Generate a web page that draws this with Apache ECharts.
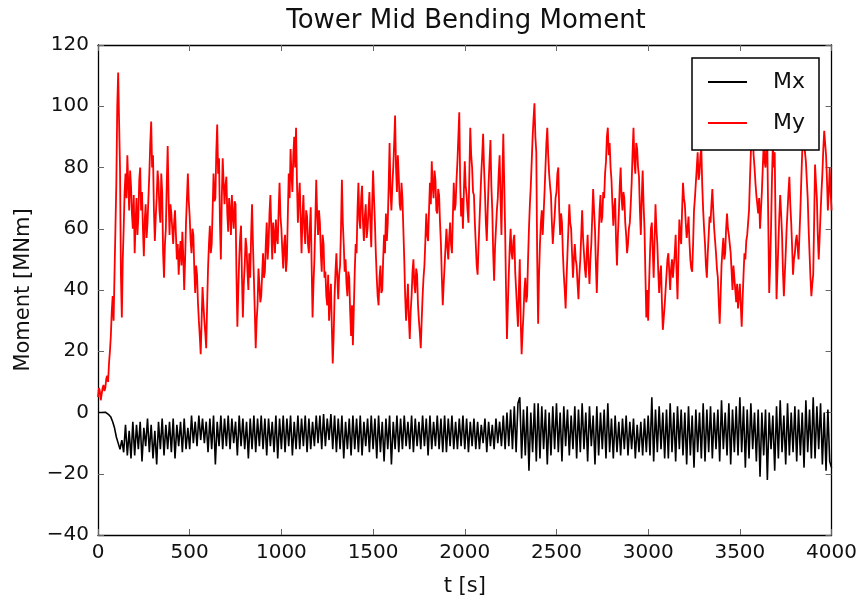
<!DOCTYPE html>
<html>
<head>
<meta charset="utf-8">
<script src="https://cdn.jsdelivr.net/npm/echarts@6/dist/echarts.min.js"></script>
<style>html,body{margin:0;padding:0;background:#fff;}#c{width:860px;height:603px;}</style>
</head>
<body>
<div id="c"></div>
<script>
// sampling grids (seconds)
const T_START = 0;
const MX_STEP = 10;
const MY_STEP = 5;
const xTicks = [0, 500, 1000, 1500, 2000, 2500, 3000, 3500, 4000];
const yTicks = [-40, -20, 0, 20, 40, 60, 80, 100, 120];
const seriesNames = ['Mx', 'My'];

// Mx [MNm], one value every 10 s
const mx = [
0, 0.3, 0, -0.2, 0.1, -0.4, -0.8, -1.5, -3, -5,
-8, -10, -12, -9, -13, -4, -14, -6, -15, -3,
-14, -4, -12, -3, -16, -5, -11, -2, -13, -4,
-15, -6, -17, -3, -12, -2, -14, -4, -12, -3,
-13, -2, -15, -4, -11, -3, -13, -2, -12, -5,
-12, -1, -10, -3, -11, -1, -9, -2, -10, -3,
-13, -2, -12, -1, -17, -3, -11, -1, -12, -2,
-11, -1, -12, -2, -10, -3, -14, -1, -11, -2,
-12, -3, -15, -2, -12, -1, -13, -2, -11, -1,
-12, -2, -14, -2, -11, -3, -13, -1, -15, -2,
-12, -1, -13, -2, -11, -1, -14, -3, -12, -1,
-12, -2, -11, -1, -13, -2, -12, -3, -11, -1,
-10, -1, -12, -0.5, -11, -2, -9, -0.5, -12, -1,
-13, -2, -12, -1, -15, -3, -12, -2, -14, -1,
-12, -2, -13, -1, -14, -3, -11, -2, -13, -1,
-12, -2, -15, -1, -13, -3, -16, -2, -12, -1,
-17, -3, -12, -1, -13, -2, -12, -1, -11, -3,
-12, -1, -13, -2, -11, -3, -12, -1, -11, -2,
-14, -1, -12, -3, -11, -1, -12, -2, -13, -1,
-13, -2, -11, -1, -12, -3, -12, -2, -11, -1,
-12, -2, -13, -3, -11, -2, -12, -3, -12, -4,
-10, -2, -13, -3, -11, -4, -12, -2, -10, -3,
-11, -1, -12, 0, -11, 1, -12, 2, -13, 3,
5, -15, 1, -14, 2, -19, 0, -13, 3, -16,
3, -15, 2, -12, 1, -17, 0, -14, 2, -12,
3, -13, 0, -16, 2, -11, 1, -14, -1, -12,
2, -15, 1, -13, 3, -12, 0, -16, 2, -11,
-1, -17, 2, -14, 0, -12, 1, -15, 3, -13,
-2, -15, -1, -13, -3, -14, -2, -12, -1, -14,
-3, -12, -2, -15, -4, -13, -3, -14, -2, -13,
-1, -14, 5, -16, 1, -13, 2, -12, 0, -15,
1, -15, 3, -13, 0, -16, 2, -12, 1, -14,
0, -17, 2, -14, -1, -18, 1, -13, 0, -15,
3, -16, 1, -13, 2, -15, 0, -12, 1, -16,
4, -12, 0, -14, 3, -17, 1, -13, 2, -14,
5, -13, 2, -18, 1, -15, 3, -12, 0, -16,
1, -21, 0, -14, 1, -22, 0, -12, -1, -19,
2, -15, 4, -13, -1, -17, 3, -14, 0, -13,
2, -16, 1, -14, 0, -18, 4, -13, 1, -15,
5, -15, 2, -12, 3, -17, 0, -19, 1, -16,
-18
];

// My [MNm], one value every 5 s
const my = [
5,8, 7,4, 6,8, 9,7, 8,11, 12,10, 16,20, 25,33, 38,30, 45,60,
75,100, 111,95, 80,45, 31,50, 60,72, 78,70, 84,75, 66,79, 74,65, 60,71,
52,62, 70,58, 64,76, 80,66, 72,60, 51,63, 68,57, 62,70, 78,88, 95,80,
84,66, 56,64, 70,79, 75,66, 62,78, 72,52, 44,55, 60,75, 87,70, 58,68,
65,60, 55,62, 66,58, 50,55, 45,52, 56,48, 59,51, 40,50, 62,70, 78,69,
64,56, 52,60, 58,47, 39,48, 45,36, 30,25, 19,30, 41,35, 30,26, 21,35,
47,55, 61,52, 55,66, 78,69, 70,85, 94,78, 83,62, 50,70, 83,75, 68,74,
77,65, 59,70, 66,58, 71,64, 60,69, 68,45, 28,40, 50,57, 61,44, 31,42,
48,57, 54,46, 40,52, 44,58, 68,55, 44,33, 21,30, 35,47, 42,36, 38,45,
52,44, 46,55, 62,50, 55,65, 71,60, 50,62, 58,52, 63,57, 55,66, 75,64,
60,53, 47,55, 58,46, 50,64, 78,70, 86,78, 72,84, 90,80, 93,75, 62,70,
75,63, 52,64, 71,60, 55,66, 64,55, 52,60, 67,48, 31,42, 50,62, 76,65,
58,66, 62,52, 46,58, 55,44, 46,38, 35,45, 30,37, 42,28, 16,25, 38,46,
52,44, 37,45, 48,60, 76,62, 55,46, 50,42, 38,46, 44,33, 25,35, 22,34,
46,55, 52,66, 75,63, 60,70, 74,62, 56,64, 68,57, 60,66, 72,62, 54,68,
79,70, 62,52, 44,38, 35,44, 48,39, 40,50, 58,52, 65,56, 62,74, 88,72,
66,74, 80,88, 97,80, 72,84, 77,68, 66,75, 70,60, 50,38, 30,36, 42,31,
24,33, 38,46, 50,42, 39,47, 45,35, 30,26, 21,30, 38,44, 48,56, 65,58,
56,66, 75,68, 82,74, 70,79, 76,66, 65,73, 71,62, 55,44, 35,42, 48,54,
60,54, 50,57, 62,55, 52,64, 75,66, 68,76, 82,90, 98,75, 64,70, 60,72,
82,74, 71,66, 62,78, 93,84, 80,72, 71,62, 55,48, 45,54, 62,70, 78,84,
91,80, 72,62, 56,66, 75,82, 89,74, 66,52, 43,54, 60,66, 70,78, 84,70,
58,76, 91,75, 60,40, 24,35, 45,54, 60,52, 50,56, 58,46, 40,34, 28,40,
50,30, 19,26, 32,40, 44,36, 38,50, 60,68, 74,82, 90,96, 101,90, 85,50,
29,45, 55,62, 66,58, 58,72, 80,88, 93,84, 78,74, 71,62, 55,60, 64,70,
72,78, 80,66, 58,65, 62,52, 45,40, 34,44, 52,60, 68,62, 60,52, 44,50,
55,50, 48,42, 37,45, 50,58, 66,57, 52,47, 44,52, 58,48, 42,50, 55,64,
73,66, 60,48, 39,50, 58,66, 71,62, 64,72, 70,78, 82,90, 93,84, 88,80,
76,68, 61,67, 70,56, 48,58, 65,74, 80,70, 66,72, 70,62, 58,52, 55,60,
62,68, 75,85, 93,82, 78,88, 86,80, 77,66, 58,70, 79,68, 60,45, 31,40,
30,42, 52,60, 62,53, 44,56, 68,60, 55,46, 39,45, 48,36, 27,31, 35,40,
45,50, 52,46, 40,47, 50,44, 44,52, 58,46, 37,50, 63,58, 55,66, 75,70,
68,62, 57,60, 64,56, 50,47, 46,55, 66,70, 75,80, 85,76, 78,84, 86,74,
66,60, 55,48, 44,52, 58,64, 62,68, 73,66, 60,56, 52,47, 44,36, 29,38,
48,53, 57,50, 52,60, 65,60, 58,55, 52,46, 40,48, 44,40, 36,42, 34,38,
42,35, 28,37, 45,52, 50,56, 58,62, 66,76, 85,88, 92,84, 80,75, 71,68,
65,70, 60,66, 72,80, 88,82, 80,88, 86,62, 39,48, 60,76, 88,80, 85,60,
37,46, 55,64, 71,65, 58,46, 38,45, 52,60, 66,72, 77,68, 62,54, 45,50,
52,56, 58,54, 50,58, 66,76, 85,88, 90,85, 82,76, 70,60, 52,44, 38,42,
45,62, 81,75, 70,58, 50,57, 65,72, 78,86, 92,88, 84,76, 66,72, 80,72,
66
];

const pairs = (arr, step) => arr.map((v, i) => [T_START + i * step, v]);
const minusFmt = v => String(v).replace('-', '\u2212');

const FONT = 'DejaVu Sans';
const tickStyle = { show: true, inside: true, length: 6, lineStyle: { color: '#666', width: 1 } };
const lineStyleAxis = { show: true, onZero: false, lineStyle: { color: '#000', width: 1.3 } };

const chart = echarts.init(document.getElementById('c'), null, { renderer: 'canvas' });
chart.setOption({
  animation: false,
  backgroundColor: '#fff',
  title: {
    text: 'Tower Mid Bending Moment',
    left: 466, top: 8, padding: 0, textAlign: 'center',
    textStyle: { fontFamily: FONT, fontSize: 26, fontWeight: 'normal', color: '#111' }
  },
  legend: {
    orient: 'vertical',
    left: 692, top: 58,
    data: seriesNames,
    icon: 'rect',
    itemWidth: 39, itemHeight: 2,
    itemGap: 11,
    padding: [9, 14, 12, 16],
    backgroundColor: '#fff',
    borderColor: '#000', borderWidth: 1.5, borderRadius: 0,
    textStyle: { fontFamily: FONT, fontSize: 22, color: '#111', lineHeight: 30, padding: [0, 0, 0, 21] }
  },
  grid: { left: 98, right: 26, top: 45, bottom: 68, containLabel: false },
  xAxis: [{
    type: 'value', min: xTicks[0], max: xTicks[xTicks.length - 1], interval: 500, position: 'bottom',
    name: 't [s]', nameLocation: 'middle', nameGap: 41,
    nameTextStyle: { fontFamily: FONT, fontSize: 21, color: '#111' },
    axisLine: lineStyleAxis, axisTick: tickStyle,
    axisLabel: { fontFamily: FONT, fontSize: 20, color: '#111', margin: 8, formatter: v => String(v) },
    splitLine: { show: false }
  }, {
    type: 'value', min: xTicks[0], max: xTicks[xTicks.length - 1], interval: 500, position: 'top',
    axisLine: lineStyleAxis, axisTick: tickStyle, axisLabel: { show: false }, splitLine: { show: false }
  }],
  yAxis: [{
    type: 'value', min: yTicks[0], max: yTicks[yTicks.length - 1], interval: 20, position: 'left',
    name: 'Moment [MNm]', nameLocation: 'middle', nameGap: 64,
    nameTextStyle: { fontFamily: FONT, fontSize: 21, color: '#111' },
    axisLine: lineStyleAxis, axisTick: tickStyle,
    axisLabel: { fontFamily: FONT, fontSize: 20, color: '#111', margin: 9, formatter: minusFmt },
    splitLine: { show: false }
  }, {
    type: 'value', min: yTicks[0], max: yTicks[yTicks.length - 1], interval: 20, position: 'right',
    axisLine: lineStyleAxis, axisTick: tickStyle, axisLabel: { show: false }, splitLine: { show: false }
  }],
  series: [{
    name: seriesNames[0], type: 'line', data: pairs(mx, MX_STEP), showSymbol: false, symbol: 'none',
    lineStyle: { color: '#000', width: 1.6 }, itemStyle: { color: '#000' }, xAxisIndex: 0, yAxisIndex: 0
  }, {
    name: seriesNames[1], type: 'line', data: pairs(my, MY_STEP), showSymbol: false, symbol: 'none',
    lineStyle: { color: '#ff0000', width: 1.8 }, itemStyle: { color: '#ff0000' }, xAxisIndex: 0, yAxisIndex: 0
  }]
});
</script>
</body>
</html>
